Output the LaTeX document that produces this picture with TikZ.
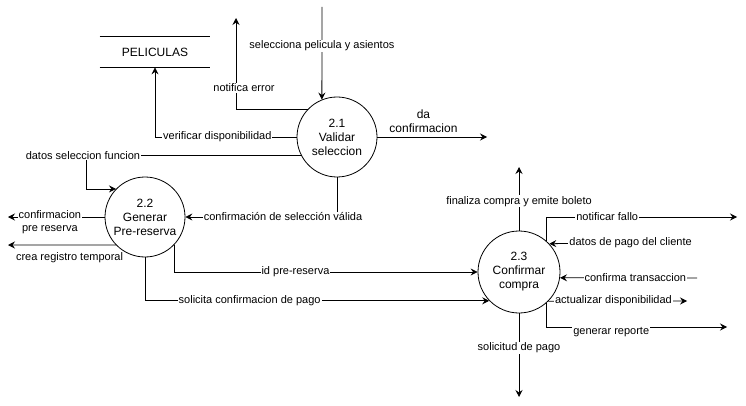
\documentclass[tikz,border=0pt]{standalone}
\usepackage{fontspec}
\setmainfont{Liberation Sans}
\usetikzlibrary{arrows.meta,calc}
\begin{document}
\begin{tikzpicture}[x=1pt,y=-1pt,
  every path/.style={line width=0.8pt},
  proc/.style={draw,circle,minimum size=80pt,inner sep=0pt,align=center,font=\fontsize{12}{14}\selectfont},
  lab/.style={fill=white,inner sep=1pt,font=\fontsize{11}{13}\selectfont,align=center},
  flow/.style={-{Stealth[length=7pt,width=7pt,inset=2.5pt]}}]
\useasboundingbox (0,0) rectangle (746,406);
% processes
\node[proc] (c1) at (337,137) {2.1\\Validar\\seleccion};
\node[proc] (c2) at (145,217) {2.2\\Generar\\Pre-reserva};
\node[proc,minimum size=82pt] (c3) at (519,272) {2.3\\Confirmar\\compra};
% data store
\node[minimum width=110pt,minimum height=30pt,inner sep=0pt,font=\fontsize{12}{14}\selectfont] (pel) at (155,52) {PELICULAS};
\draw (pel.north west) -- (pel.north east);
\draw (pel.south west) -- (pel.south east);
% free ends
\coordinate (sp) at (322,7);
\coordinate (ne) at (236,18);
\coordinate (dc) at (487,137);
\coordinate (cpr) at (8,217);
\coordinate (crt) at (8,245);
\coordinate (fc) at (519,167);
\coordinate (nf) at (737,217);
\coordinate (dp) at (692,241);
\coordinate (ct) at (697,278);
\coordinate (ad) at (687,301);
\coordinate (gr) at (727,327);
\coordinate (sdp) at (519,397);
% flows of 2.1
\draw[flow] (sp) -- node[lab,pos=0.42] {selecciona pelicula y asientos} (c1.112);
\draw[flow] (c1.136) -| node[lab,pos=0.615,xshift=8pt] {notifica error} (ne);
\draw[flow] (c1.west) -| node[lab,pos=0.28] {verificar disponibilidad} (pel.south);
\draw[flow] (c1.207) -- ([xshift=-30pt]c2.136 |- c1.207) node[lab,xshift=-3pt] {datos seleccion funcion}
  -- ([xshift=-30pt]c2.136) -- (c2.136);
\draw[flow] (c1.east) -- node[pos=0.42,anchor=south,yshift=3pt,inner sep=1pt,align=center,font=\fontsize{12}{14}\selectfont] {da\\confirmacion} (dc);
\draw[flow] (c1.south) |- node[lab,pos=0.678] {confirmación de selección válida} (c2.east);
% flows of 2.2
\draw[flow] (c2.west) -- node[lab,pos=0.567,yshift=-5pt,font=\fontsize{11}{13}\selectfont] {confirmacion\\pre reserva} (cpr);
\draw[flow] (c2.224) -- node[lab,pos=0.43,yshift=-13pt] {crea registro temporal} (crt);
\draw[flow] (c2.316) |- node[lab,pos=0.70] {id pre-reserva} (c3.west);
\draw[flow] (c2.south) |- node[lab,pos=0.652] {solicita confirmacion de pago} (c3.224);
% flows of 2.3
\draw[flow] (c3.north) -- node[lab,pos=0.46] {finaliza compra y emite boleto} (fc);
\draw[flow] (c3.49) |- node[lab,pos=0.66] {notificar fallo} (nf);
\draw[flow] (dp) -- node[lab,pos=0.43] {datos de pago del cliente} (c3.43);
\draw[flow] (ct) -- node[lab,pos=0.45] {confirma transaccion} (c3.-8);
\draw[flow] (c3.-45) -- node[lab,pos=0.47] {actualizar disponibilidad} (ad);
\draw[flow] (c3.-49) |- node[lab,pos=0.68,yshift=-5pt] {generar reporte} (gr);
\draw[flow] (c3.south) -- node[lab,pos=0.41] {solicitud de pago} (sdp);
\end{tikzpicture}
\end{document}
